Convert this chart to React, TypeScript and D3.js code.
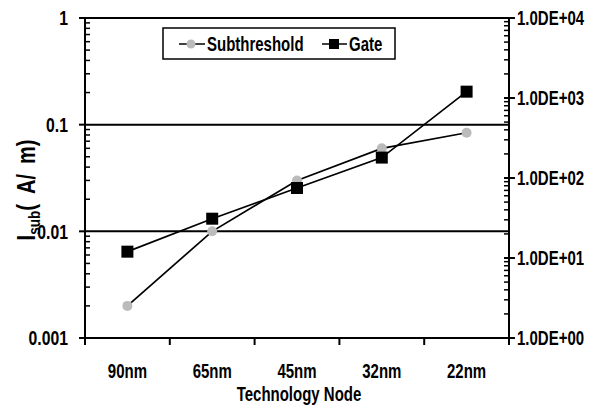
import React from "react";
import * as d3 from "d3";

const categories = ["90nm", "65nm", "45nm", "32nm", "22nm"];
const subthreshold = [0.002, 0.01, 0.03, 0.06, 0.084];
const gate = [12, 31, 75, 180, 1200];
const leftTicks = [0.001, 0.01, 0.1, 1];
const leftTickLabels = ["0.001", "0.01", "0.1", "1"];
const rightTicks = [1, 10, 100, 1000, 10000];
const rightTickLabels = ["1.0DE+00", "1.0DE+01", "1.0DE+02", "1.0DE+03", "1.0DE+04"];
const gridValues = [0.01, 0.1, 1];

const W = 594, H = 407;
const left = 85, right = 509, top = 18, bottom = 338;
const FONT = "'Liberation Sans', Arial, sans-serif";
const SX = 0.75;

function T(props: { x: number; y: number; anchor?: string; size: number; children: React.ReactNode; dy?: string }) {
  const { x, y, anchor = "start", size, children, dy } = props;
  return (
    <text transform={`translate(${x},${y}) scale(${SX},1)`} textAnchor={anchor} fontSize={size} dy={dy} fill="#000">
      {children}
    </text>
  );
}

export default function App() {
  const x = d3.scaleBand<string>().domain(categories).range([left, right]).padding(0);
  const yL = d3.scaleLog().domain([0.001, 1]).range([bottom, top]);
  const yR = d3.scaleLog().domain([1, 10000]).range([bottom, top]);
  const cx = (c: string) => (x(c) as number) + x.bandwidth() / 2;

  const minorL: number[] = [];
  for (let e = -3; e < 0; e++) for (let k = 2; k <= 9; k++) minorL.push(k * Math.pow(10, e));
  const minorR: number[] = [];
  for (let e = 0; e < 4; e++) for (let k = 2; k <= 9; k++) minorR.push(k * Math.pow(10, e));

  const lineL = d3.line<number>().x((_, i) => cx(categories[i])).y((d) => yL(d));
  const lineR = d3.line<number>().x((_, i) => cx(categories[i])).y((d) => yR(d));
  const boundaries = categories.map((c) => x(c) as number).concat([right]);

  return (
    <svg width={W} height={H} style={{ position: "absolute", left: 0, top: 0, background: "#fff" }}
      fontFamily={FONT} fontWeight="bold">
      {gridValues.map((v) => (
        <line key={v} x1={left} x2={right} y1={yL(v)} y2={yL(v)} stroke="#000" strokeWidth={2} />
      ))}
      <line x1={left} x2={left} y1={top} y2={bottom + 7} stroke="#000" strokeWidth={2} />
      <line x1={right} x2={right} y1={top} y2={bottom + 7} stroke="#000" strokeWidth={2} />
      <line x1={left - 6} x2={right + 6} y1={bottom} y2={bottom} stroke="#000" strokeWidth={2} />
      {leftTicks.map((v, i) => (
        <g key={v}>
          <line x1={left - 6} x2={left} y1={yL(v)} y2={yL(v)} stroke="#000" strokeWidth={2} />
          <T x={left - 17} y={yL(v)} dy="0.35em" anchor="end" size={21}>{leftTickLabels[i]}</T>
        </g>
      ))}
      {minorL.map((v) => (
        <line key={v} x1={left} x2={left + 5} y1={yL(v)} y2={yL(v)} stroke="#000" strokeWidth={1.5} />
      ))}
      {rightTicks.map((v, i) => (
        <g key={v}>
          <line x1={right - 5} x2={right + 6} y1={yR(v)} y2={yR(v)} stroke="#000" strokeWidth={2} />
          <T x={right + 8} y={yR(v)} dy="0.35em" size={20}>{rightTickLabels[i]}</T>
        </g>
      ))}
      {minorR.map((v) => (
        <line key={v} x1={right - 5} x2={right} y1={yR(v)} y2={yR(v)} stroke="#000" strokeWidth={1.5} />
      ))}
      {boundaries.slice(1, -1).map((b) => (
        <line key={b} x1={b} x2={b} y1={bottom} y2={bottom + 7} stroke="#000" strokeWidth={2} />
      ))}
      {categories.map((c) => (
        <T key={c} x={cx(c)} y={378} anchor="middle" size={20}>{c}</T>
      ))}
      <T x={(left + right) / 2 + 2} y={401} anchor="middle" size={20}>Technology Node</T>
      <text transform={`translate(35, 190) rotate(-90) scale(0.8,1)`} textAnchor="middle" fontSize={25} fill="#000">
        <tspan>I</tspan><tspan fontSize={17} dy={5}>sub</tspan><tspan dy={-5}>{"(\u2002A/\u2002m)"}</tspan>
      </text>
      <path d={lineL(subthreshold) || ""} fill="none" stroke="#000" strokeWidth={1.7} />
      <path d={lineR(gate) || ""} fill="none" stroke="#000" strokeWidth={1.7} />
      {subthreshold.map((v, i) => (
        <circle key={i} cx={cx(categories[i])} cy={yL(v)} r={5} fill="#bbbbbb" />
      ))}
      {gate.map((v, i) => (
        <rect key={i} x={cx(categories[i]) - 6} y={yR(v) - 6} width={12} height={12} fill="#000" />
      ))}
      <rect x={163} y={28} width={232} height={31} fill="#fff" stroke="#000" strokeWidth={1.5} />
      <line x1={179} x2={205} y1={44} y2={44} stroke="#000" strokeWidth={1.5} />
      <circle cx={191} cy={44} r={4.5} fill="#bbbbbb" />
      <T x={207} y={44} dy="0.35em" size={20}>Subthreshold</T>
      <line x1={322} x2={347} y1={44} y2={44} stroke="#000" strokeWidth={1.5} />
      <rect x={329} y={39} width={10} height={10} fill="#000" />
      <T x={349} y={44} dy="0.35em" size={20}>Gate</T>
    </svg>
  );
}
